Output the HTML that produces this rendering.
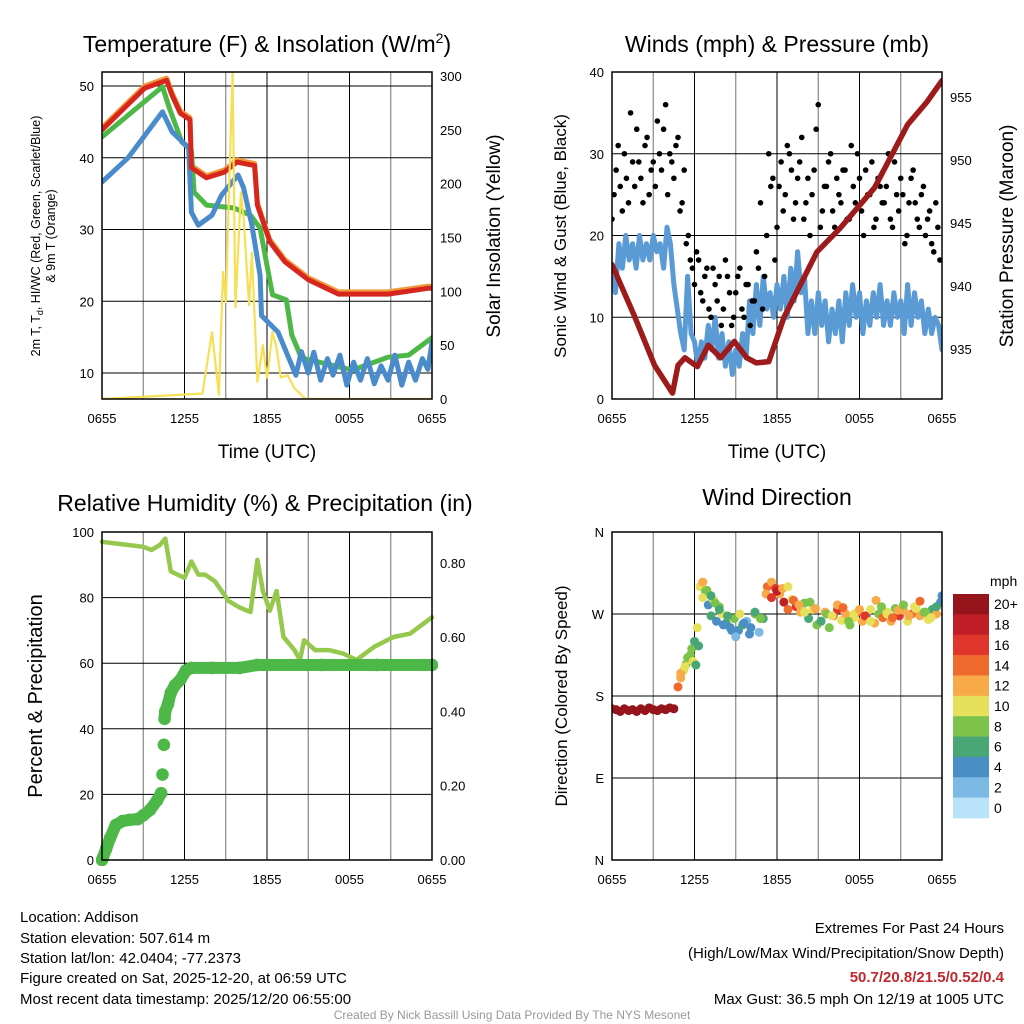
<!DOCTYPE html>
<html><head><meta charset="utf-8">
<style>
html,body{margin:0;padding:0;background:#fff;}
svg{display:block;font-family:"Liberation Sans",Arial,sans-serif;}
</style></head>
<body>
<svg id="fig" width="1024" height="1024" viewBox="0 0 1024 1024" xmlns="http://www.w3.org/2000/svg">
<defs>
<clipPath id="c1"><rect x="102" y="72" width="330" height="327"/></clipPath>
<clipPath id="c2"><rect x="612" y="72" width="330" height="327"/></clipPath>
<clipPath id="c3"><rect x="96" y="532" width="342" height="334"/></clipPath>
<clipPath id="c4"><rect x="612" y="532" width="330" height="328"/></clipPath>
</defs>
<g id="layer"></g>
<text x="267" y="52" font-size="23" text-anchor="middle">Temperature (F) &amp; Insolation (W/m<tspan dy="-9" font-size="14">2</tspan><tspan dy="9">)</tspan></text>
<text x="777" y="52" font-size="23" text-anchor="middle">Winds (mph) &amp; Pressure (mb)</text>
<text x="265" y="511" font-size="23" text-anchor="middle">Relative Humidity (%) &amp; Precipitation (in)</text>
<text x="777" y="505" font-size="23" text-anchor="middle">Wind Direction</text>
<text x="267" y="458" font-size="19" text-anchor="middle">Time (UTC)</text>
<text x="777" y="458" font-size="19" text-anchor="middle">Time (UTC)</text>
<text transform="translate(40,236) rotate(-90)" font-size="12.5" text-anchor="middle">2m T, T<tspan dy="3" font-size="9">d</tspan><tspan dy="-3">, HI/WC (Red, Green, Scarlet/Blue)</tspan></text>
<text transform="translate(55,236) rotate(-90)" font-size="12.5" text-anchor="middle">&amp; 9m T (Orange)</text>
<text transform="translate(500,236) rotate(-90)" font-size="19" text-anchor="middle">Solar Insolation (Yellow)</text>
<text transform="translate(566,236) rotate(-90)" font-size="17" text-anchor="middle">Sonic Wind &amp; Gust (Blue, Black)</text>
<text transform="translate(1013,236) rotate(-90)" font-size="19" text-anchor="middle">Station Pressure (Maroon)</text>
<text transform="translate(42,696) rotate(-90)" font-size="20" text-anchor="middle">Percent &amp; Precipitation</text>
<text transform="translate(567,696) rotate(-90)" font-size="17" text-anchor="middle">Direction (Colored By Speed)</text>
<g font-size="15">
<text x="20" y="922">Location: Addison</text>
<text x="20" y="943">Station elevation: 507.614 m</text>
<text x="20" y="963">Station lat/lon: 42.0404; -77.2373</text>
<text x="20" y="983">Figure created on Sat, 2025-12-20, at 06:59 UTC</text>
<text x="20" y="1004">Most recent data timestamp: 2025/12/20 06:55:00</text>
</g>
<g font-size="15" text-anchor="end">
<text x="1004" y="933">Extremes For Past 24 Hours</text>
<text x="1004" y="958">(High/Low/Max Wind/Precipitation/Snow Depth)</text>
<text x="1004" y="982" fill="#c0282d" font-weight="bold">50.7/20.8/21.5/0.52/0.4</text>
<text x="1004" y="1004">Max Gust: 36.5 mph On 12/19 at 1005 UTC</text>
</g>
<text x="512" y="1019" font-size="12" fill="#999" text-anchor="middle">Created By Nick Bassill Using Data Provided By The NYS Mesonet</text>
</svg>
<script>
// ---- data (hours since 0655 UTC) ----
const xTickLabels = ["0655","1255","1855","0055","0655"];
const tTimes = [0,3.1,4.7,5.1,5.7,6.4,6.5,7.6,8.9,9.8,11.1,11.3,12.2,13.3,15,17.2,20.8,23.7,24];
const tempRed = [43.9,49.7,50.8,48.7,46.2,45.3,38.6,37.2,38,39.4,38.9,33.4,28.3,25.5,23,21,21,21.8,21.8];
const dTimes = [0,4.4,4.9,5.8,6.5,6.7,7.6,9.6,10.8,11.5,12,12.4,13.4,13.8,14.5,18.2,20.8,22.3,24];
const dewGreen = [42.9,49.9,46.9,42.2,41,35.2,33.4,33,32,30.2,25,20.9,20.2,15.3,12.1,10.4,12.2,12.5,14.9];
const bTimes = [0,1.9,4.4,5.1,6.3,6.5,7,8,8.7,9.9,10.3,10.9,11.5,11.6,12.8,13.6,14.1,14.5,15,15.4,15.9,16.4,16.8,17.3,17.8,18.3,18.8,19.3,19.8,20.3,20.8,21.3,21.8,22.3,22.8,23.3,23.7,24];
const hiwcBlue = [36.6,40,46.4,43.6,41.4,32.4,30.6,32,34.8,37.6,35.8,30.6,23.6,18,15.7,12,9.7,13,10,12.9,9,12,9.7,12.5,8.3,11.5,9,12,8.5,11,9,12.5,8.3,11.5,9,12,10.5,14.3];
const sTimes = [0,5.8,7.3,8.0,8.5,8.8,9.0,9.3,9.5,9.7,10.1,10.3,10.7,10.9,11.3,11.7,12.0,12.4,12.7,13.0,13.5,14.0,14.8,24];
const solar = [0,4,5,62,4,118,90,220,303,85,192,168,87,136,16,50,20,62,47,20,22,10,0,0];
const windStep = 0.25;
const wind = [15,13,19,16,20,17,19,16,20,17,19,17,20,18,19,16,21,19,14,11,8,6,15,8,7,4,7,5,9,6,10,5,8,4,7,3,6,4,8,5,12,8,14,9,15,11,13,10,14,11,15,10,16,12,18,13,15,8,12,8,13,9,12,7,11,8,12,7,13,9,14,10,13,8,12,9,13,10,14,9,12,9,13,10,12,8,14,9,13,10,12,8,11,8,10,9,6];
const gustStep = 0.3;
const gustA = [22,28,26,30,24,29,33,27,31,25,29,34,28,36,30,27,32,24,19,17,14,17,12,16,10,14,15,11,15,9,13,16,10,14,12,18,24,15,30,27,21,29,25,30,22,27,32,24,20,28,36,23,26,30,21,25,28,22,31,24,27,20,25,29,22,26,24,30,21,25,27,19,24,28,22,25,20,23,18,21];
const gustB = [25,31,23,27,35,26,29,24,32,28,26,30,33,25,29,31,23,28,20,16,18,13,15,11,16,12,9,17,13,10,15,11,14,9,12,16,11,20,26,17,26,23,31,28,24,29,22,27,25,33,21,26,29,23,27,24,28,22,26,30,23,28,25,21,27,24,26,22,29,23,25,20,27,24,21,26,22,19,24,17];
const pTimes = [0,1.6,3.1,4.4,4.8,5.3,6.2,7,7.9,8.9,9.8,10.5,11.4,12.5,14.9,16.6,19.1,21.5,22.9,24];
const pressure = [941.7,937.7,933.7,931.5,933.7,934.3,933.6,935.3,934.3,935.6,934.3,933.9,934,937.5,942.7,944.6,947.8,952.8,954.6,956.3];
const rhTimes = [0,1,2,3,3.6,4.2,4.6,5.0,5.5,6.0,6.5,7.0,7.5,8.2,9.2,10,10.8,11.3,11.7,12.2,12.7,13.2,13.6,14.0,14.4,14.7,15.5,16.5,17.5,18.5,19.8,21.2,22.4,24];
const rh = [97,96.5,96,95.5,94.5,96,98,88,87,86,91,87,87,85,79,77,75.6,91.5,82,76,82,68,66,64,61,67,64,64,63,61,65,68,69,74];
const prTimes = [0,0.3,0.6,1.0,1.5,2.0,2.6,3.0,3.5,4.0,4.3,4.4,4.5,4.55,4.6,4.8,5.0,5.3,5.7,6.1,6.5,8,10,11.3,12,16,20,24];
const precip = [0,0.03,0.06,0.094,0.105,0.108,0.11,0.12,0.135,0.16,0.18,0.23,0.31,0.38,0.40,0.42,0.45,0.47,0.485,0.51,0.517,0.517,0.517,0.525,0.525,0.525,0.525,0.525];
const dirTimes = [0,0.3,0.6,0.9,1.2,1.5,1.8,2.1,2.4,2.7,3.0,3.3,3.6,3.9,4.2,4.5,4.8,5.0,5.2,5.4,5.6,5.8,6.0,6.2,6.4,6.6,6.8,7.0,7.2,7.4,7.6,7.8,8.0,8.3,8.6,8.9,9.2,9.5,9.8,10.1,10.4,10.7,11.0,11.3,11.6,11.9,12.2,12.5,12.8,13.1,13.4,13.7,14.0,14.3,14.6,14.9,15.2,15.5,15.8,16.1,16.4,16.7,17.0,17.3,17.6,17.9,18.2,18.5,18.8,19.1,19.4,19.7,20.0,20.3,20.6,20.9,21.2,21.5,21.8,22.1,22.4,22.7,23.0,23.3,23.6,23.9];
const dirs = [166,165,163,166,164,165,163,166,164,167,165,164,166,165,167,166,190,200,208,215,220,232,240,255,300,305,295,280,268,285,262,278,270,260,255,265,252,258,262,255,270,250,265,300,305,298,292,283,275,286,278,272,282,265,275,258,262,272,255,268,275,263,270,258,266,272,262,268,275,260,270,266,272,262,276,268,274,262,270,276,268,272,264,275,270,283];
const speeds = [20,20,20,20,20,20,20,20,20,20,20,20,20,20,20,20,14,12,10,8,10,8,6,10,10,12,8,4,6,10,4,8,10,6,4,8,4,6,2,4,8,2,6,14,12,16,12,18,14,10,16,12,8,6,10,8,6,12,8,14,16,10,12,8,10,14,12,6,10,12,8,14,10,12,8,16,12,10,14,10,12,8,10,6,12,4];
const dirTimes2 = [5.0,5.3,5.5,5.7,5.9,6.1,6.3,6.6,6.9,7.2,7.5,7.8,8.1,8.4,8.7,9.0,9.3,9.6,10.0,10.4,10.8,11.2,11.6,12.0,12.4,12.8,13.2,13.6,14.0,14.4,14.8,15.2,15.6,16.0,16.4,16.8,17.2,17.6,18.0,18.4,18.8,19.2,19.6,20.0,20.4,20.8,21.2,21.6,22.0,22.4,22.8,23.2,23.6,24];
const dirs2 = [205,212,222,225,218,214,235,288,296,290,282,275,258,268,252,245,270,260,248,272,265,292,288,295,298,300,285,280,272,283,276,262,270,268,280,277,262,270,275,268,262,285,278,270,266,274,280,268,278,284,272,266,278,290];
const speeds2 = [12,10,8,8,10,6,6,10,8,6,8,6,4,6,4,2,10,4,4,6,8,12,16,18,12,10,14,12,10,8,12,6,8,10,12,14,8,10,12,16,10,12,8,10,14,12,8,12,10,14,8,10,6,4];
const cbLabels = ["20+","18","16","14","12","10","8","6","4","2","0"];
const speedColors = ["#b8e3f8","#7db9e5","#4a8ec6","#48a774","#7cc24b","#e7e05a","#f8a948","#f06a2e","#e0352c","#bf1e26","#96141b"];

// ---- helpers ----
const NS = "http://www.w3.org/2000/svg";
const L = document.getElementById("layer");
function E(tag, a, p){ const e=document.createElementNS(NS,tag); for(const k in a) e.setAttribute(k,a[k]); (p||L).appendChild(e); return e; }
function sx(P,t){ return P.x0 + t/24*(P.x1-P.x0); }
function pts(P, ts, vs, fy){ return ts.map((t,i)=>sx(P,t).toFixed(1)+","+fy(vs[i]).toFixed(1)).join(" "); }
function grid(ts,step){ return ts.map((_,i)=>i*step); }

const P1={x0:102,x1:432,y0:72,y1:399}, P2={x0:612,x1:942,y0:72,y1:399}, P3={x0:102,x1:432,y0:532,y1:860}, P4={x0:612,x1:942,y0:532,y1:860};
const y1L=v=>373-(v-10)*7.175, y1R=v=>399-v*323/300;
const y2L=v=>399-v*327/40, y2R=v=>349-(v-935)*12.6;
const y3L=v=>860-v*3.28, y3R=v=>860-v*371.5;
const y4=d=>860-d*328/360;

function frame(P, name, hVals, fy){
  for(let i=1;i<8;i+=2){
    const x=sx(P,i*3);
    const g=E("line",{x1:x,y1:P.y0,x2:x,y2:P.y1,stroke:"#888","stroke-width":1.2});
    
    
  }
  for(let i=0;i<5;i++){
    const x=sx(P,i*6);
    const g=E("line",{x1:x,y1:P.y0,x2:x,y2:P.y1,stroke:"#000","stroke-width":1});
    
    
    const t=E("text",{x:x,y:P.y1+24,"font-size":13,"text-anchor":"middle"});
    t.textContent=xTickLabels[i];
    
    
  }
  hVals.forEach(v=>{
    const y=fy(v);
    const g=E("line",{x1:P.x0,y1:y,x2:P.x1,y2:y,stroke:"#000","stroke-width":1});
    
    
  });
}
function ticksL(P,name,vals,labels,fy){
  vals.forEach((v,i)=>{
    const t=E("text",{x:P.x0-8,y:fy(v)+5,"font-size":13,"text-anchor":"end"});
    t.textContent=labels[i];
    
    
  });
}
function ticksR(P,name,vals,labels,fy){
  vals.forEach((v,i)=>{
    const t=E("text",{x:P.x1+8,y:fy(v)+5,"font-size":13,"text-anchor":"start"});
    t.textContent=labels[i];
    
    
  });
}
function border(P,name){
  const r=E("rect",{x:P.x0,y:P.y0,width:P.x1-P.x0,height:P.y1-P.y0,fill:"none",stroke:"#000","stroke-width":1.5});
  
  
}
function line(P,clip,ts,vs,fy,color,w,name){
  const l=E("polyline",{points:pts(P,ts,vs,fy),fill:"none",stroke:color,"stroke-width":w,"stroke-linejoin":"round","stroke-linecap":"round","clip-path":"url(#"+clip+")"});
  
  
}

// Panel 1
frame(P1,"temp",[10,20,30,40,50],y1L);
ticksL(P1,"temp",[10,20,30,40,50],["10","20","30","40","50"],y1L);
ticksR(P1,"solar",[0,50,100,150,200,250,300],["0","50","100","150","200","250","300"],y1R);
line(P1,"c1",tTimes,tempRed.map(v=>v+0.3),y1L,"#f29a3a",5,"temp-9m-orange-line");
line(P1,"c1",dTimes,dewGreen,y1L,"#4db848",5,"dewpoint-green-line");
line(P1,"c1",bTimes,hiwcBlue,y1L,"#4a8ccb",5,"hiwc-blue-line");
line(P1,"c1",tTimes,tempRed,y1L,"#d7261e",5,"temp-red-line");
line(P1,"c1",sTimes,solar,y1R,"#f7df55",2.2,"solar-line");
border(P1,"temp");

// Panel 2
frame(P2,"winds",[10,20,30],y2L);
ticksL(P2,"winds",[0,10,20,30,40],["0","10","20","30","40"],y2L);
ticksR(P2,"pressure",[935,940,945,950,955],["935","940","945","950","955"],y2R);
line(P2,"c2",grid(wind,windStep),wind,y2L,"#5b9bd5",5,"sonic-wind-line");
[[gustA,0],[gustB,0.15]].forEach(([arr,off])=>{
  arr.forEach((v,i)=>{
    const c=E("circle",{cx:sx(P2,off+i*gustStep),cy:y2L(v),r:2.8,fill:"#000","clip-path":"url(#c2)"});
    
    
  });
});
line(P2,"c2",pTimes,pressure,y2R,"#9e1b1b",5.5,"pressure-line");
border(P2,"winds");

// Panel 3
frame(P3,"rh",[20,40,60,80],y3L);
ticksL(P3,"rh",[0,20,40,60,80,100],["0","20","40","60","80","100"],y3L);
ticksR(P3,"precip",[0,0.2,0.4,0.6,0.8],["0.00","0.20","0.40","0.60","0.80"],y3R);
line(P3,"c3",rhTimes,rh,y3L,"#95c84c",4.5,"rh-line");
for(let i=1;i<prTimes.length;i++){
  if(Math.abs(precip[i]-precip[i-1])<0.04){
    const s=E("line",{x1:sx(P3,prTimes[i-1]),y1:y3R(precip[i-1]),x2:sx(P3,prTimes[i]),y2:y3R(precip[i]),stroke:"#4db848","stroke-width":12,"stroke-linecap":"round","clip-path":"url(#c3)"});
    
    
  }
}
prTimes.forEach((t,i)=>{
  const c=E("circle",{cx:sx(P3,t),cy:y3R(precip[i]),r:6.3,fill:"#4db848","clip-path":"url(#c3)"});
  
  
});
border(P3,"rh");

// Panel 4
frame(P4,"dir",[90,180,270],y4);
ticksL(P4,"dir",[0,90,180,270,360],["N","E","S","W","N"],y4);
[[dirTimes,dirs,speeds],[dirTimes2,dirs2,speeds2]].forEach(([ts,ds,ss])=>{
  ts.forEach((t,i)=>{
    const k=Math.min(10,Math.floor(ss[i]/2));
    const c=E("circle",{cx:sx(P4,t),cy:y4(ds[i]),r:4.5,fill:speedColors[k],"clip-path":"url(#c4)"});
    
    
  });
});
border(P4,"dir");

// Colorbar
const cbt=E("text",{x:990,y:586,"font-size":14});
cbt.textContent="mph";


cbLabels.forEach((lab,i)=>{
  const h=224/11;
  const r=E("rect",{x:953,y:594+i*h,width:36,height:h+0.3,fill:speedColors[10-i]});
  
  
  const t=E("text",{x:994,y:594+i*h+h/2+5,"font-size":14});
  t.textContent=lab;
  
  
});
</script>
</body></html>
